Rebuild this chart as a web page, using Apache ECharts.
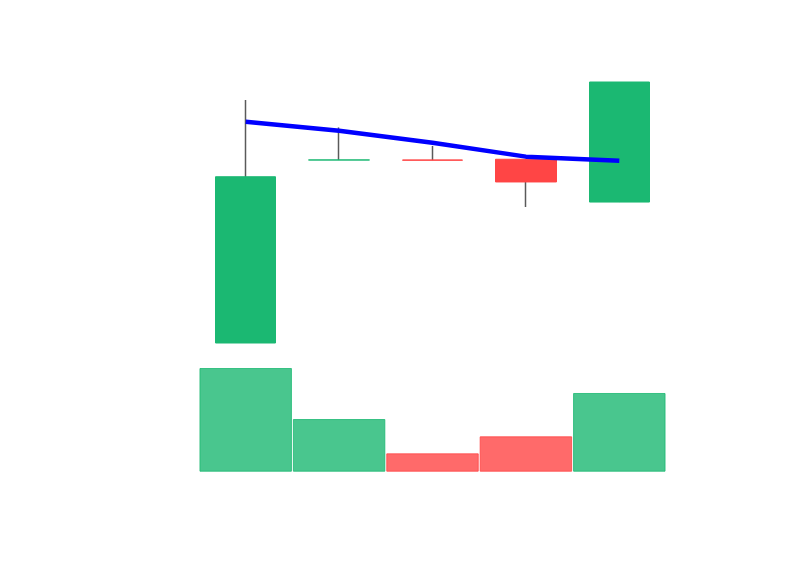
<!DOCTYPE html>
<html>
<head>
<meta charset="utf-8">
<script src="https://cdn.jsdelivr.net/npm/echarts@6/dist/echarts.min.js"></script>
<style>html,body{margin:0;padding:0;background:#fff}#c{width:800px;height:575px}</style>
</head>
<body>
<div id="c"></div>
<script>
// Data
var categories = ['1', '2', '3', '4', '5'];
var openVals  = [0,    70.1,  70.1,  70.4, 54.0];
var closeVals = [63.7, 70.15, 70.05, 61.7, 100.0];
var lowVals   = [0,    70.1,  70.05, 52.1, 54.0];
var highVals  = [93.1, 82.6,  75.5,  70.4, 100.0];
var lineVals  = [84.8, 81.3,  76.7,  71.4, 69.8];
var volumeVals = [100, 50.8, 17.7, 34.1, 75.9];

var UP = '#1bb872', DOWN = '#ff4545', WICK = '#5a5a5a';

var fullData = categories.map(function (c, i) {
  return [openVals[i], closeVals[i], lowVals[i], highVals[i]];
});
var bodyData = categories.map(function (c, i) {
  return [openVals[i], closeVals[i], Math.min(openVals[i], closeVals[i]), Math.max(openVals[i], closeVals[i])];
});
var volData = categories.map(function (c, i) {
  var col = closeVals[i] >= openVals[i] ? UP : DOWN;
  return { value: volumeVals[i], itemStyle: { color: col, borderColor: col } };
});

var chart = echarts.init(document.getElementById('c'));
chart.setOption({
  animation: false,
  backgroundColor: '#ffffff',
  grid: [
    { left: 199, right: 134, top: 82, height: 261 },
    { left: 199, right: 134, top: 368, height: 103.7 }
  ],
  xAxis: [
    { type: 'category', data: categories, gridIndex: 0, show: false },
    { type: 'category', data: categories, gridIndex: 1, show: false }
  ],
  yAxis: [
    { type: 'value', gridIndex: 0, min: 0, max: 100, show: false, splitLine: { show: false } },
    { type: 'value', gridIndex: 1, min: 0, max: 100, show: false, splitLine: { show: false } }
  ],
  series: [
    {
      type: 'candlestick', xAxisIndex: 0, yAxisIndex: 0,
      data: fullData, barWidth: 1,
      itemStyle: { color: WICK, color0: WICK, borderColor: WICK, borderColor0: WICK, borderWidth: 1.5 }
    },
    {
      type: 'candlestick', xAxisIndex: 0, yAxisIndex: 0,
      data: bodyData, barWidth: 61,
      itemStyle: { color: UP, color0: DOWN, borderColor: UP, borderColor0: DOWN, borderWidth: 1 }
    },
    {
      type: 'line', xAxisIndex: 0, yAxisIndex: 0,
      data: lineVals, showSymbol: false, symbol: 'none',
      lineStyle: { color: '#0000ff', width: 4.5 }, z: 5
    },
    {
      type: 'bar', xAxisIndex: 1, yAxisIndex: 1,
      data: volData, barWidth: '99%',
      itemStyle: { opacity: 0.8, borderWidth: 1 }
    }
  ]
});
</script>
</body>
</html>
